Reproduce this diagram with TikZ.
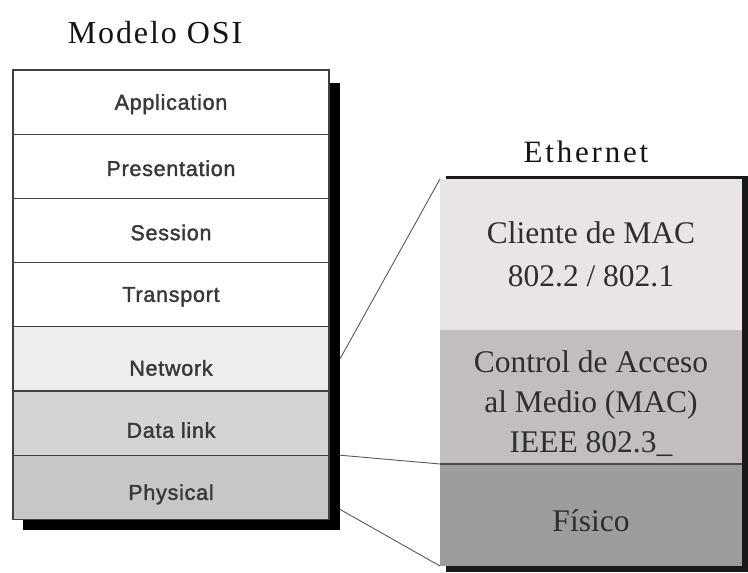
\documentclass[tikz,border=0pt]{standalone}
\usepackage{fontspec}
\setmainfont{Liberation Serif}
\newfontfamily\osisans[FakeBold=1.6,LetterSpace=3.5]{Liberation Sans}
\newfontfamily\titleserif[LetterSpace=6]{Liberation Serif}
% lowers a label without changing the size of its box
\newcommand{\dropby}[2]{\raisebox{-#1}[\height][\depth]{#2}}
\begin{document}
\begin{tikzpicture}[x=1pt,y=-1pt,
  osilayer/.style={draw=black!75, line width=1.3pt, minimum width=316pt,
    minimum height=64.2pt, inner sep=0pt, outer sep=0pt, anchor=north west,
    font=\osisans\fontsize{21.5}{24}\selectfont, text=black!78},
  ethlayer/.style={minimum width=302pt, inner sep=0pt, outer sep=0pt,
    anchor=north west, align=center, text=black!82,
    font=\fontsize{31.5}{42.5}\selectfont},
  title/.style={font=\titleserif\fontsize{32}{34}\selectfont, text=black!92},
  link/.style={draw=black!65, line width=0.9pt}]
\useasboundingbox (0,0) rectangle (748,573);
\fill[white] (0,0) rectangle (748,573);

% OSI stack with its drop shadow
\fill[black] (23,83) rectangle (340,530);
\node[osilayer, fill=white] (app) at (13,70) {\dropby{2pt}{Application}};
\node[osilayer, fill=white] (pre) at (app.south west) {\dropby{2pt}{Presentation}};
\node[osilayer, fill=white] (ses) at (pre.south west) {\dropby{2pt}{Session}};
\node[osilayer, fill=white] (tra) at (ses.south west) {\dropby{2pt}{Transport}};
\node[osilayer, fill=black!7] (net) at (tra.south west) {\dropby{9pt}{Network}};
\node[osilayer, fill=black!17] (dl) at (net.south west) {\dropby{7pt}{Data link}};
\node[osilayer, fill=black!22] (phy) at (dl.south west) {\dropby{7pt}{Physical}};
\node[title] (osi) at (155,33) {Modelo OSI};

% Ethernet stack with its drop shadow
\fill[black!90] (446,176) rectangle (748,572);
\node[ethlayer, fill={rgb,255:red,233;green,229;blue,229}, minimum height=151pt] (mac) at (440,179) {Cliente de MAC\\802.2 / 802.1};
\node[ethlayer, fill={rgb,255:red,194;green,190;blue,191}, minimum height=134pt] (ctl) at (mac.south west) {\dropby{7pt}{\begin{tabular}{@{}c@{}}Control de Acceso\\[-2.5pt]al Medio (MAC)\\[-2.5pt]IEEE 802.3\_\end{tabular}}};
\node[ethlayer, fill={rgb,255:red,156;green,156;blue,156}, minimum height=102pt] (fis) at (ctl.south west) {\dropby{6pt}{Físico}};
\draw[black!70, line width=1.2pt] (ctl.south west) -- (ctl.south east);
\node[title, font=\titleserif\fontsize{31}{34}\selectfont\addfontfeature{LetterSpace=9}] (eth) at (586,152) {Ethernet};

% connectors between the two stacks
\draw[link] ([xshift=11pt]net.east) -- (mac.north west);
\draw[link] ([xshift=11pt]dl.south east) -- (ctl.south west);
\draw[link] ([xshift=11pt,yshift=10pt]phy.south east) -- (fis.south west);
\end{tikzpicture}
\end{document}
